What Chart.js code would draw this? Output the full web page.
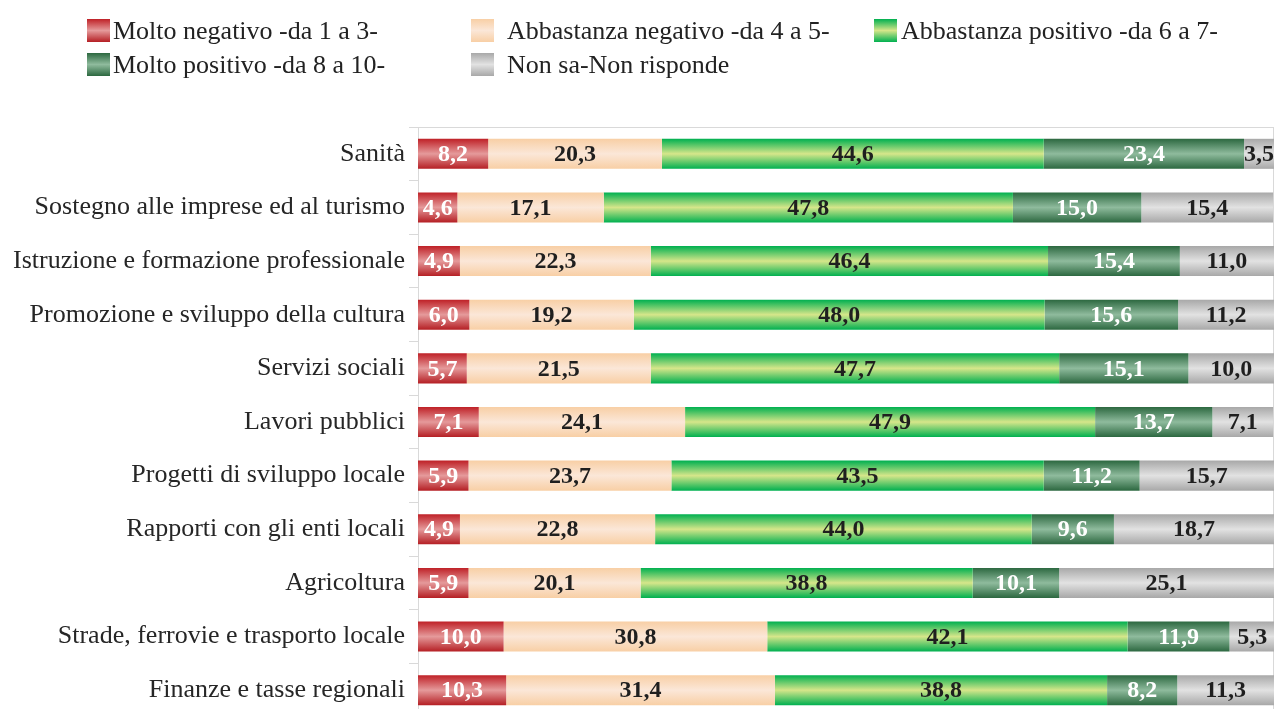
<!DOCTYPE html>
<html>
<head>
<meta charset="utf-8">
<script src="https://cdn.jsdelivr.net/npm/chart.js@4/dist/chart.umd.min.js"></script>
<style>
  html, body { margin: 0; padding: 0; background: #fff; overflow: hidden; }
  #wrap { position: relative; width: 1277px; height: 709px; overflow: hidden; }
  #myChart { position: absolute; left: 0; top: 0; }
  .leg { position: absolute; font-family: "Liberation Serif", serif; font-size: 26px; color: #222; white-space: nowrap; }
  .leg i { position: absolute; width: 23px; height: 23px; }
</style>
</head>
<body>
<div id="wrap">
  <canvas id="myChart" width="1277" height="717"></canvas>
</div>
<script>
const categorie = [
  "Sanità",
  "Sostegno alle imprese ed al turismo",
  "Istruzione e formazione professionale",
  "Promozione e sviluppo della cultura",
  "Servizi sociali",
  "Lavori pubblici",
  "Progetti di sviluppo locale",
  "Rapporti con gli enti locali",
  "Agricoltura",
  "Strade, ferrovie e trasporto locale",
  "Finanze e tasse regionali"
]

const moltoNegativo = [8.2, 4.6, 4.9, 6.0, 5.7, 7.1, 5.9, 4.9, 5.9, 10.0, 10.3]
const abbastanzaNegativo = [20.3, 17.1, 22.3, 19.2, 21.5, 24.1, 23.7, 22.8, 20.1, 30.8, 31.4]
const abbastanzaPositivo = [44.6, 47.8, 46.4, 48.0, 47.7, 47.9, 43.5, 44.0, 38.8, 42.1, 38.8]
const moltoPositivo = [23.4, 15.0, 15.4, 15.6, 15.1, 13.7, 11.2, 9.6, 10.1, 11.9, 8.2]
const nonSa = [3.5, 15.4, 11.0, 11.2, 10.0, 7.1, 15.7, 18.7, 25.1, 5.3, 11.3]

const serie = [
  "Molto negativo -da 1 a 3-",
  "Abbastanza negativo -da 4 a 5-",
  "Abbastanza positivo -da 6 a 7-",
  "Molto positivo -da 8 a 10-",
  "Non sa-Non risponde"
]

// colori: bordo, centro, bordo (sfumatura verticale)
const sfumature = [
  ['#bf2127', '#e59a9b', '#b51f24'],
  ['#f8cfa5', '#fbe7d8', '#f8cfa5'],
  ['#00b050', '#d6e68a', '#00b050'],
  ['#2c6840', '#8fbb9d', '#2c6840'],
  ['#a8a8a8', '#e2e2e2', '#a8a8a8']
]
const coloreTesto = ['#ffffff', '#1f1f1f', '#1f1f1f', '#ffffff', '#1f1f1f']

const catPerc = 0.56

function gradiente(stops) {
  return (ctx) => {
    const chart = ctx.chart
    const y = chart.scales.y
    if (!y || !chart.chartArea || ctx.dataIndex === undefined) return stops[1]
    const py = y.getPixelForValue(ctx.dataIndex)
    const h = (y.getPixelForValue(1) - y.getPixelForValue(0)) * catPerc / 2
    const g = chart.ctx.createLinearGradient(0, py - h, 0, py + h)
    g.addColorStop(0, stops[0])
    g.addColorStop(0.5, stops[1])
    g.addColorStop(1, stops[2])
    return g
  }
}

const valori = [moltoNegativo, abbastanzaNegativo, abbastanzaPositivo, moltoPositivo, nonSa]

const data = {
  labels: categorie,
  datasets: valori.map((v, i) => ({
    label: serie[i],
    data: v,
    backgroundColor: gradiente(sfumature[i]),
    borderWidth: 0,
    categoryPercentage: catPerc,
    barPercentage: 1
  }))
}

// etichette dei valori dentro le barre
const etichette = {
  id: 'etichette',
  afterDatasetsDraw(chart) {
    const c = chart.ctx
    c.save()
    c.font = 'bold 24px "Liberation Serif"'
    c.textAlign = 'center'
    c.textBaseline = 'middle'
    chart.data.datasets.forEach((ds, i) => {
      const meta = chart.getDatasetMeta(i)
      c.fillStyle = coloreTesto[i]
      meta.data.forEach((el, j) => {
        const txt = ds.data[j].toFixed(1).replace('.', ',')
        c.fillText(txt, (el.x + el.base) / 2, el.y + 1)
      })
    })
    c.restore()
  }
}

// cornice grigia dell'area del grafico
const cornice = {
  id: 'cornice',
  beforeDatasetsDraw(chart) {
    const a = chart.chartArea
    const c = chart.ctx
    c.save()
    c.strokeStyle = '#d9d9d9'
    c.lineWidth = 1
    c.strokeRect(a.left + 0.5, a.top + 0.5, a.right - a.left - 1, a.bottom - a.top + 10)
    c.restore()
  }
}

const config = {
  type: 'bar',
  data: data,
  options: {
    indexAxis: 'y',
    responsive: false,
    animation: false,
    layout: { padding: { top: 127, right: 3, bottom: 0, left: 0 } },
    scales: {
      x: {
        stacked: true,
        min: 0,
        max: 100,
        display: false
      },
      y: {
        stacked: true,
        afterFit: (s) => { s.width = 418; s.paddingTop = 0; s.paddingBottom = 0 },
        grid: {
          offset: true,
          drawOnChartArea: false,
          tickLength: 9,
          color: '#d9d9d9'
        },
        border: { color: '#d9d9d9' },
        ticks: {
          color: '#262626',
          padding: 4,
          font: { family: 'Liberation Serif', size: 26 }
        }
      }
    },
    plugins: {
      legend: { display: false },
      tooltip: { enabled: false }
    }
  },
  plugins: [cornice, etichette]
}

new Chart(document.querySelector('#myChart'), config)

// legenda HTML
const posLegenda = [
  { box: [87, 19], txt: 113 },
  { box: [471, 19], txt: 507 },
  { box: [874, 19], txt: 901 },
  { box: [87, 53], txt: 113 },
  { box: [471, 53], txt: 507 }
]
const wrap = document.querySelector('#wrap')
serie.forEach((s, i) => {
  const p = posLegenda[i]
  const st = sfumature[i]
  const box = document.createElement('div')
  box.className = 'leg'
  box.style.left = p.box[0] + 'px'
  box.style.top = p.box[1] + 'px'
  box.innerHTML = '<i style="left:0;top:0;background:linear-gradient(' + st[0] + ',' + st[1] + ',' + st[2] + ')"></i>'
  wrap.appendChild(box)
  const t = document.createElement('div')
  t.className = 'leg'
  t.style.left = p.txt + 'px'
  t.style.top = (p.box[1] - 4) + 'px'
  t.style.lineHeight = '31px'
  t.textContent = s
  wrap.appendChild(t)
})
</script>
</body>
</html>
